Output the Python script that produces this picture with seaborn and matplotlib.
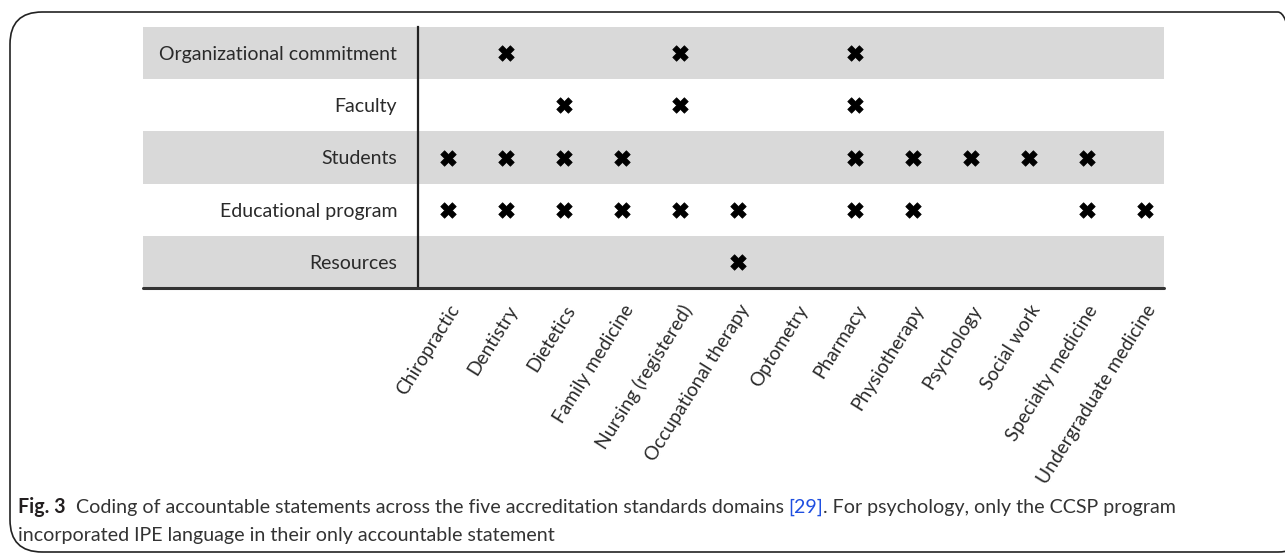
import pandas as pd
import seaborn as sns
import matplotlib.pyplot as plt
from matplotlib.patches import FancyBboxPatch

PROGRAMS = [
    "Chiropractic", "Dentistry", "Dietetics", "Family medicine",
    "Nursing (registered)", "Occupational therapy", "Optometry", "Pharmacy",
    "Physiotherapy", "Psychology", "Social work", "Specialty medicine",
    "Undergraduate medicine",
]
DOMAINS = [
    "Organizational commitment", "Faculty", "Students",
    "Educational program", "Resources",
]
ORG_COMMITMENT = ["Dentistry", "Nursing (registered)", "Pharmacy"]
FACULTY = ["Dietetics", "Nursing (registered)", "Pharmacy"]
STUDENTS = [
    "Chiropractic", "Dentistry", "Dietetics", "Family medicine", "Pharmacy",
    "Physiotherapy", "Psychology", "Social work", "Specialty medicine",
]
EDUCATIONAL_PROGRAM = [
    "Chiropractic", "Dentistry", "Dietetics", "Family medicine",
    "Nursing (registered)", "Occupational therapy", "Pharmacy",
    "Physiotherapy", "Specialty medicine", "Undergraduate medicine",
]
RESOURCES = ["Occupational therapy"]

CAPTION_BOLD = "Fig. 3"
CAPTION_1 = "  Coding of accountable statements across the five accreditation standards domains "
CAPTION_REF = "[29]"
CAPTION_2 = ". For psychology, only the CCSP program"
CAPTION_LINE2 = "incorporated IPE language in their only accountable statement"


def main():
    sns.set_style("white")
    plt.rcParams["font.family"] = ["Lato", "DejaVu Sans"]

    rows = []
    for domain, marked in zip(DOMAINS, [ORG_COMMITMENT, FACULTY, STUDENTS,
                                        EDUCATIONAL_PROGRAM, RESOURCES]):
        for prog in marked:
            rows.append({"x": PROGRAMS.index(prog), "y": DOMAINS.index(domain)})
    df = pd.DataFrame(rows)

    fig = plt.figure(figsize=(12.85, 5.56), dpi=100)
    W, H = 1285, 556
    ax = fig.add_axes([418 / W, 1 - 288 / H, 746 / W, 261 / H])

    # alternating grey bands, reaching left under the row labels
    band_left = (143 - 418) / 746
    for i in range(len(DOMAINS)):
        if i % 2 == 0:
            ax.axhspan(i - 0.5, i + 0.5, xmin=band_left, xmax=1,
                       color="#d9d9d9", lw=0, clip_on=False, zorder=0)

    sns.scatterplot(data=df, x="x", y="y", marker="X", s=125, color="black",
                    edgecolor="black", linewidth=0.5, ax=ax, zorder=3)

    ax.set_xlim(-0.52, 12.33)
    ax.set_ylim(len(DOMAINS) - 0.5, -0.5)
    ax.set_xticks(range(len(PROGRAMS)))
    ax.set_xticklabels(PROGRAMS, rotation=58, ha="right",
                       rotation_mode="anchor", fontsize=13.8, color="#2a2a2a")
    ax.set_yticks(range(len(DOMAINS)))
    ax.set_yticklabels(DOMAINS, fontsize=14, color="#2a2a2a")
    ax.tick_params(axis="both", length=0)
    ax.tick_params(axis="y", pad=15)
    ax.tick_params(axis="x", pad=10)
    ax.set_xlabel("")
    ax.set_ylabel("")

    for side in ["top", "right", "bottom"]:
        ax.spines[side].set_visible(False)
    ax.spines["left"].set_color("#222222")
    ax.spines["left"].set_linewidth(1.6)
    ax.axhline(len(DOMAINS) - 0.5, xmin=band_left, xmax=1, color="#333333",
               lw=2.2, clip_on=False, zorder=4)

    # rounded frame around the figure, right side runs off the picture
    frame = FancyBboxPatch((10 / W, 1 - 552 / H), 1300 / W, 540 / H,
                           boxstyle="round,pad=0,rounding_size=0.025",
                           transform=fig.transFigure, fill=False,
                           edgecolor="#222222", lw=1.2, mutation_aspect=W / H)
    fig.patches.append(frame)

    # caption, pieces chained one after another
    fig.canvas.draw()
    renderer = fig.canvas.get_renderer()
    x = 18 / W
    y = 1 - 507 / H
    pieces = [(CAPTION_BOLD, "bold", "#231f20"),
              (CAPTION_1, "normal", "#333333"),
              (CAPTION_REF, "normal", "#1f4fe0"),
              (CAPTION_2, "normal", "#333333")]
    for text, weight, color in pieces:
        t = fig.text(x, y, text, fontsize=14.1, fontweight=weight,
                     color=color, va="center", ha="left")
        bb = t.get_window_extent(renderer=renderer)
        x += bb.width / W
    fig.text(18 / W, 1 - 535 / H, CAPTION_LINE2, fontsize=14.1,
             color="#333333", va="center", ha="left")

    fig.savefig("out.png", dpi=100)


if __name__ == "__main__":
    main()
